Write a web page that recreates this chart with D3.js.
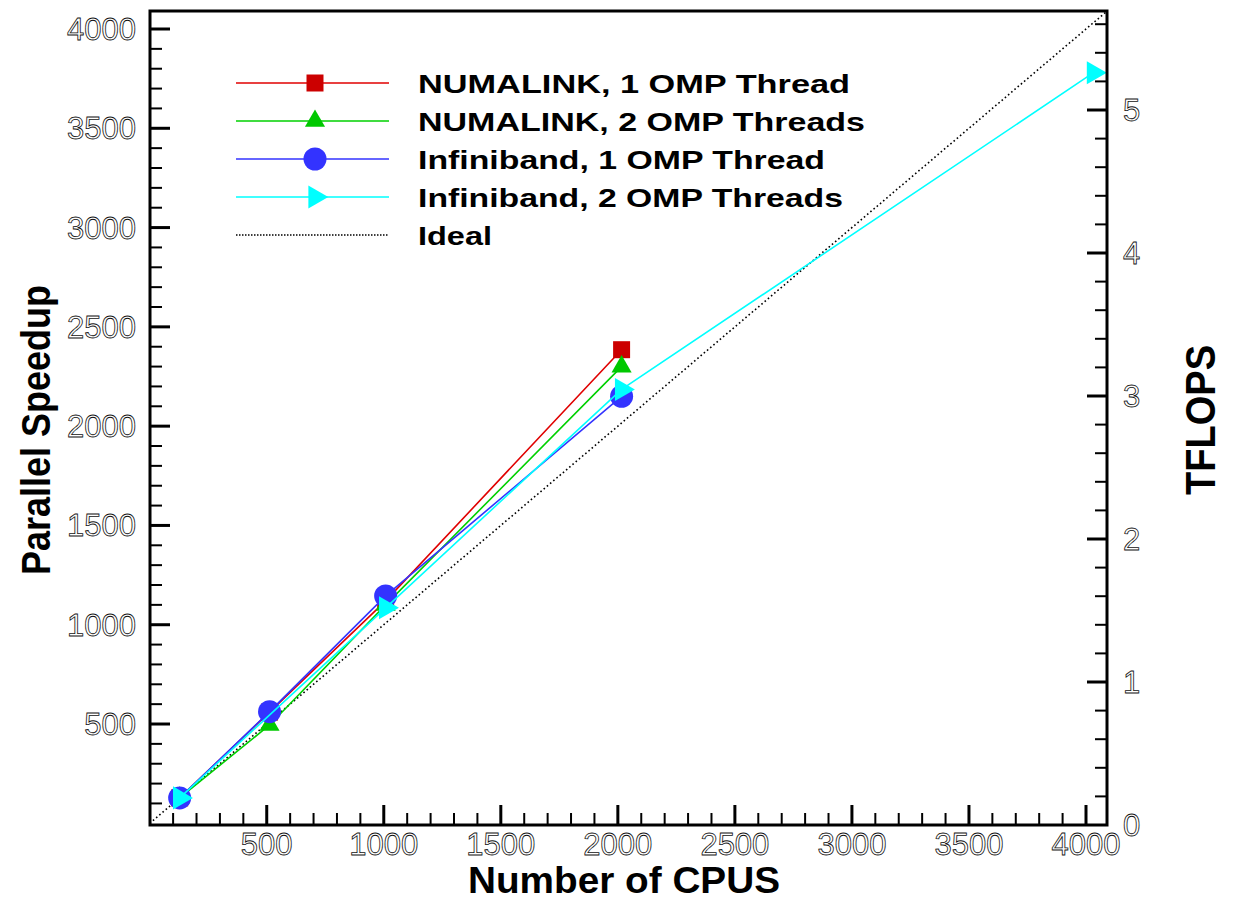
<!DOCTYPE html>
<html>
<head>
<meta charset="utf-8">
<script src="https://cdn.jsdelivr.net/npm/d3@7"></script>
<style>
  html, body { margin: 0; padding: 0; background: #fff; }
  svg { display: block; }
</style>
</head>
<body>
<svg id="chart" width="1234" height="901"></svg>
<script>
// ---- data ----
const cpusBase = [128, 512, 1008, 2016];
const numalink1 = [128, 560, 1120, 2385];
const numalink2 = [128, 495, 1100, 2300];
const infiniband1 = [128, 562, 1145, 2150];
const cpusIb2 = [128, 1008, 2016, 4032];
const infiniband2 = [128, 1085, 2185, 3780];
const idealCpus = [0, 4090];
const xTickLabels = [500, 1000, 1500, 2000, 2500, 3000, 3500, 4000];
const yTickLabels = [500, 1000, 1500, 2000, 2500, 3000, 3500, 4000];
const tflopsTickLabels = [0, 1, 2, 3, 4, 5];
const seriesNames = ["NUMALINK, 1 OMP Thread", "NUMALINK, 2 OMP Threads",
  "Infiniband, 1 OMP Thread", "Infiniband, 2 OMP Threads", "Ideal"];

// ---- layout ----
const L = 150, R = 1107, T = 11, B = 825;
const svg = d3.select("#chart");

const x = d3.scaleLinear().domain([0, 4000]).range([149.7, 1086]);
const y = d3.scaleLinear().domain([0, 4000]).range([823.3, 29]);
const yT = d3.scaleLinear().domain([0, 5]).range([825, 110]);

const series = [
  { name: seriesNames[0], xs: cpusBase, ys: numalink1, line: "#e00000", fill: "#cc0000", sym: "square" },
  { name: seriesNames[1], xs: cpusBase, ys: numalink2, line: "#00d000", fill: "#00c800", sym: "up" },
  { name: seriesNames[2], xs: cpusBase, ys: infiniband1, line: "#3333ff", fill: "#3333ff", sym: "circle" },
  { name: seriesNames[3], xs: cpusIb2, ys: infiniband2, line: "#00ffff", fill: "#00ffff", sym: "right" }
];

function symPath(kind) {
  if (kind === "square") return d3.symbol(d3.symbolSquare, 17 * 17)();
  if (kind === "up") return d3.symbol(d3.symbolTriangle, 175)();
  if (kind === "right") return d3.symbol(d3.symbolTriangle, 230)();
  return d3.symbol(d3.symbolCircle, Math.PI * 11.5 * 11.5)();
}
function symTransform(kind, px, py) {
  return kind === "right" ? `translate(${px},${py}) rotate(90)` : `translate(${px},${py})`;
}

// clip
svg.append("clipPath").attr("id", "clip")
  .append("rect").attr("x", L).attr("y", T).attr("width", R - L).attr("height", B - T);

// ideal line
const plot = svg.append("g").attr("clip-path", "url(#clip)");
plot.append("path")
  .datum(idealCpus.map(v => [v, v]))
  .attr("d", d3.line().x(d => x(d[0])).y(d => y(d[1])))
  .attr("fill", "none").attr("stroke", "#000").attr("stroke-width", 1.6)
  .attr("stroke-dasharray", "1.6,2.6");

// series lines then markers
const lineGen = d3.line().x(d => x(d[0])).y(d => y(d[1]));
series.forEach(s => {
  const pts = s.xs.map((c, i) => [c, s.ys[i]]);
  plot.append("path").datum(pts).attr("d", lineGen)
    .attr("fill", "none").attr("stroke", s.line).attr("stroke-width", 1.6);
  plot.selectAll(null).data(pts).enter().append("path")
    .attr("d", symPath(s.sym))
    .attr("transform", d => symTransform(s.sym, x(d[0]), y(d[1])))
    .attr("fill", s.fill);
});

// ---- axes (ticks inward) ----
const axisG = svg.append("g");
const majorLen = 20, minorLen = 12;
const xTicks = d3.range(100, 4001, 100);
axisG.selectAll(null).data(xTicks).enter().append("line")
  .attr("x1", d => x(d)).attr("x2", d => x(d))
  .attr("y1", B).attr("y2", d => B - (d % 500 === 0 ? majorLen : minorLen))
  .attr("stroke", "#000").attr("stroke-width", d => d % 500 === 0 ? 3 : 2);
const yTicks = d3.range(100, 4001, 100);
axisG.selectAll(null).data(yTicks).enter().append("line")
  .attr("y1", d => y(d)).attr("y2", d => y(d))
  .attr("x1", L).attr("x2", d => L + (d % 500 === 0 ? majorLen : minorLen))
  .attr("stroke", "#000").attr("stroke-width", d => d % 500 === 0 ? 3 : 2);
const tTicks = d3.range(1, 29).map(i => i * 0.2);
axisG.selectAll(null).data(tTicks).enter().append("line")
  .attr("y1", d => yT(d)).attr("y2", d => yT(d))
  .attr("x1", R).attr("x2", d => R - (Math.abs(d - Math.round(d)) < 1e-6 ? majorLen : minorLen))
  .attr("stroke", "#000").attr("stroke-width", d => Math.abs(d - Math.round(d)) < 1e-6 ? 3 : 2);
axisG.append("rect").attr("x", L).attr("y", T).attr("width", R - L).attr("height", B - T)
  .attr("fill", "none").attr("stroke", "#000").attr("stroke-width", 3);

// tick labels (thin outline style)
const tickStyle = sel => sel.attr("font-family", "Liberation Sans, Arial, sans-serif")
  .attr("font-size", 31).attr("fill", "#fff").attr("stroke", "#111").attr("stroke-width", 0.8);

axisG.selectAll(null).data(xTickLabels).enter().append("text")
  .attr("x", d => x(d)).attr("y", 855).attr("text-anchor", "middle")
  .text(d => d).call(tickStyle);
axisG.selectAll(null).data(yTickLabels).enter().append("text")
  .attr("x", 136).attr("y", d => y(d) + 11).attr("text-anchor", "end")
  .text(d => d).call(tickStyle);
axisG.selectAll(null).data(tflopsTickLabels).enter().append("text")
  .attr("x", 1123).attr("y", d => yT(d) + 11).attr("text-anchor", "start")
  .text(d => d).call(tickStyle);

// axis titles
const titleStyle = sel => sel.attr("font-family", "Liberation Sans, Arial, sans-serif")
  .attr("font-weight", "bold").attr("fill", "#000");
svg.append("text").attr("x", 624).attr("y", 893).attr("text-anchor", "middle")
  .attr("font-size", 37).attr("textLength", 312).attr("lengthAdjust", "spacingAndGlyphs")
  .text("Number of CPUS").call(titleStyle);
svg.append("text").attr("transform", "translate(50,430) rotate(-90)").attr("text-anchor", "middle")
  .attr("font-size", 40).attr("textLength", 290).attr("lengthAdjust", "spacingAndGlyphs")
  .text("Parallel Speedup").call(titleStyle);
svg.append("text").attr("transform", "translate(1215,420) rotate(-90)").attr("text-anchor", "middle")
  .attr("font-size", 43).attr("textLength", 150).attr("lengthAdjust", "spacingAndGlyphs")
  .text("TFLOPS").call(titleStyle);

// ---- legend ----
const legend = svg.append("g");
const legRows = [83, 121, 159, 197, 235];
const legWidths = [432, 447, 407, 425, 74];
const legItems = series.concat([{ name: seriesNames[4], ideal: true }]);
legItems.forEach((s, i) => {
  const ly = legRows[i];
  const g = legend.append("g");
  g.append("line").attr("x1", 236).attr("x2", 389).attr("y1", ly).attr("y2", ly)
    .attr("stroke", s.ideal ? "#000" : s.line)
    .attr("stroke-width", s.ideal ? 1.5 : 1.6)
    .attr("stroke-dasharray", s.ideal ? "1.5,1.5" : null);
  if (!s.ideal) {
    g.append("path").attr("d", symPath(s.sym))
      .attr("transform", symTransform(s.sym, 315, ly)).attr("fill", s.fill);
  }
  g.append("text").attr("x", 418).attr("y", ly + 9.5)
    .attr("font-family", "Liberation Sans, Arial, sans-serif").attr("font-weight", "bold")
    .attr("font-size", 25).attr("fill", "#000")
    .attr("textLength", legWidths[i]).attr("lengthAdjust", "spacingAndGlyphs")
    .text(s.name);
});
</script>
</body>
</html>
